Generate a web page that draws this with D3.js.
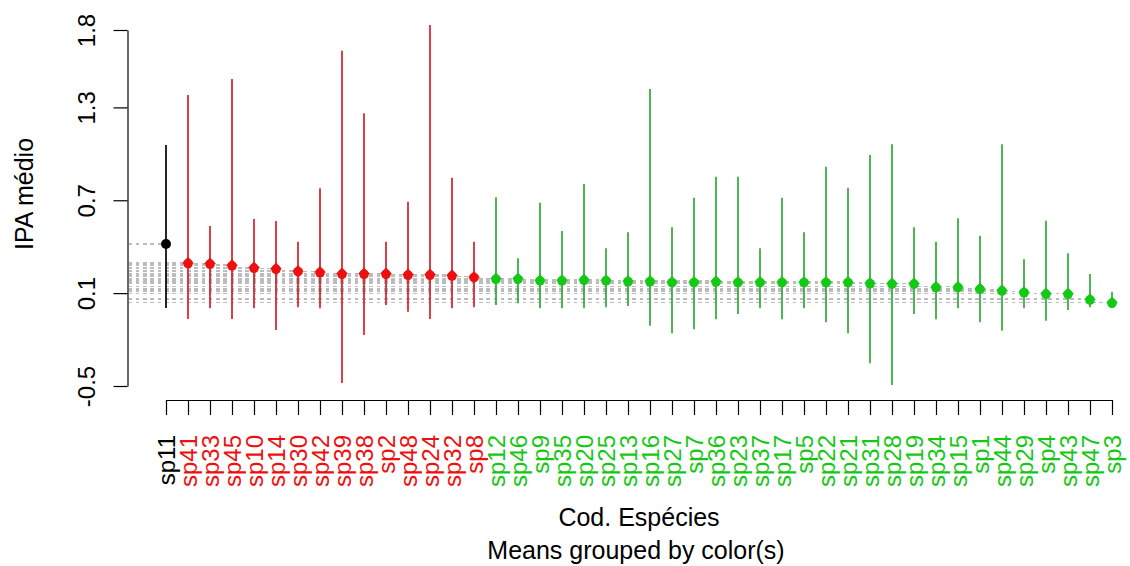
<!DOCTYPE html>
<html>
<head>
<meta charset="utf-8">
<script src="https://cdn.jsdelivr.net/npm/d3@7"></script>
<style>
  html, body { margin: 0; padding: 0; background: #ffffff; }
  svg { display: block; }
  text { font-family: "Liberation Sans", Arial, sans-serif; }
</style>
</head>
<body>
<svg id="chart" width="1130" height="566"></svg>
<script>
// ---- Data ----
const species = ["sp11","sp41","sp33","sp45","sp10","sp14","sp30","sp42","sp39","sp38","sp2","sp48","sp24","sp32","sp8",
  "sp12","sp46","sp9","sp35","sp20","sp25","sp13","sp16","sp27","sp7","sp36","sp23","sp37","sp17","sp5","sp22","sp21",
  "sp31","sp28","sp19","sp34","sp15","sp1","sp44","sp29","sp4","sp43","sp47","sp3"];
const means = [0.417,0.297,0.293,0.282,0.267,0.260,0.245,0.238,0.228,0.228,0.228,0.222,0.222,0.217,0.206,
  0.196,0.196,0.185,0.185,0.189,0.185,0.180,0.180,0.174,0.174,0.178,0.174,0.174,0.174,0.174,0.174,0.174,
  0.167,0.164,0.164,0.142,0.142,0.131,0.120,0.109,0.099,0.099,0.062,0.041];
const upper = [1.057,1.380,0.534,1.483,0.579,0.566,0.432,0.777,1.666,1.262,0.432,0.691,1.832,0.846,0.432,
  0.719,0.325,0.684,0.501,0.805,0.390,0.493,1.419,0.525,0.717,0.852,0.852,0.390,0.717,0.493,0.917,0.781,
  0.992,1.062,0.525,0.432,0.583,0.471,1.062,0.319,0.568,0.357,0.224,0.109];
const lower = [0.004,-0.067,0.002,-0.067,0.002,-0.138,0.008,0.002,-0.481,-0.171,0.023,-0.020,-0.067,0.002,0.008,
  0.023,0.034,0.002,0.002,0.002,0.008,0.017,-0.110,-0.160,-0.134,-0.069,-0.035,0.002,-0.069,0.002,-0.088,-0.160,
  -0.353,-0.494,-0.035,-0.069,0.002,-0.088,-0.143,0.002,-0.078,-0.009,0.008,0.004];
const groups = [0,1,1,1,1,1,1,1,1,1,1,1,1,1,1,
  2,2,2,2,2,2,2,2,2,2,2,2,2,2,2,2,2,2,2,2,2,2,2,2,2,2,2,2,2];
const yTicks = [-0.5, 0.1, 0.7, 1.3, 1.8];
const xTitle = "Cod. Espécies";
const subTitle = "Means grouped by color(s)";
const yTitle = "IPA médio";

// ---- Styles ----
const lineColors = ["#000000", "#d0202a", "#30a834"];
const markColors = ["#000000", "#ee1010", "#16c816"];

const svg = d3.select("#chart");
svg.append("rect").attr("width", 1130).attr("height", 566).attr("fill", "#ffffff");

const x = d3.scalePoint().domain(species).range([166, 1112]);
const y = d3.scaleLinear().domain([-0.5, 1.8]).range([386, 30]);
const axisX = 127.5;

const rows = species.map((s, i) => ({ s, m: means[i], u: upper[i], l: lower[i], g: groups[i] }));

// gray dashed reference lines from the y axis to each mean
svg.append("g").attr("shape-rendering", "crispEdges").selectAll("line").data(rows).join("line")
  .attr("x1", axisX + 1).attr("x2", d => x(d.s))
  .attr("y1", d => y(d.m)).attr("y2", d => y(d.m))
  .attr("stroke", "#bcbcbc").attr("stroke-width", 1.2)
  .attr("stroke-dasharray", "3.6,3.7");

// range bars
svg.append("g").selectAll("line").data(rows).join("line")
  .attr("x1", d => x(d.s)).attr("x2", d => x(d.s))
  .attr("y1", d => y(d.l)).attr("y2", d => y(d.u))
  .attr("stroke", d => lineColors[d.g]).attr("stroke-width", 1.7);

// markers
const mk = svg.append("g").selectAll("g").data(rows).join("g")
  .attr("transform", d => `translate(${x(d.s)},${y(d.m)})`);
mk.append("circle").attr("r", d => d.g === 0 ? 5 : 4.8).attr("cy", d => d.g === 0 ? 0 : 1)
  .attr("fill", d => markColors[d.g]);
mk.filter(d => d.g !== 0).append("path")
  .attr("d", "M-6,0.8 L6,0.8 L0,-5.8 Z")
  .attr("fill", d => markColors[d.g]);

// y axis
const gy = svg.append("g").attr("transform", `translate(${axisX},0)`)
  .call(d3.axisLeft(y).tickValues(yTicks).tickSize(14).tickSizeOuter(0).tickFormat(d => d.toFixed(1)));
gy.select(".domain").attr("stroke", "#000").attr("stroke-width", 1.2);
gy.selectAll(".tick line").attr("stroke", "#000").attr("stroke-width", 1.2);
gy.selectAll(".tick text")
  .attr("x", null).attr("dy", null).attr("y", null)
  .attr("text-anchor", "middle")
  .attr("transform", "translate(-32.5,0) rotate(-90)")
  .attr("font-size", 24).attr("fill", "#000")
  .style("font-family", '"Liberation Sans", Arial, sans-serif');

// x axis
const gx = svg.append("g").attr("transform", "translate(0,400)")
  .call(d3.axisBottom(x).tickSize(15).tickSizeOuter(0));
gx.select(".domain").attr("stroke", "#000").attr("stroke-width", 1.2);
gx.selectAll(".tick line").attr("stroke", "#000").attr("stroke-width", 1.2);
gx.selectAll(".tick text")
  .attr("y", null).attr("dy", null)
  .attr("text-anchor", "end")
  .attr("transform", "translate(8.5,35) rotate(-90)")
  .attr("font-size", 24)
  .attr("fill", (d, i) => markColors[groups[i]])
  .style("font-family", '"Liberation Sans", Arial, sans-serif');

// titles
svg.append("text").attr("x", 639).attr("y", 526).attr("text-anchor", "middle")
  .attr("font-size", 25).attr("fill", "#000").text(xTitle);
svg.append("text").attr("x", 636).attr("y", 559).attr("text-anchor", "middle")
  .attr("font-size", 25).attr("fill", "#000").text(subTitle);
svg.append("text").attr("transform", "translate(33,194) rotate(-90)").attr("text-anchor", "middle")
  .attr("font-size", 25).attr("fill", "#000").text(yTitle);
</script>
</body>
</html>
